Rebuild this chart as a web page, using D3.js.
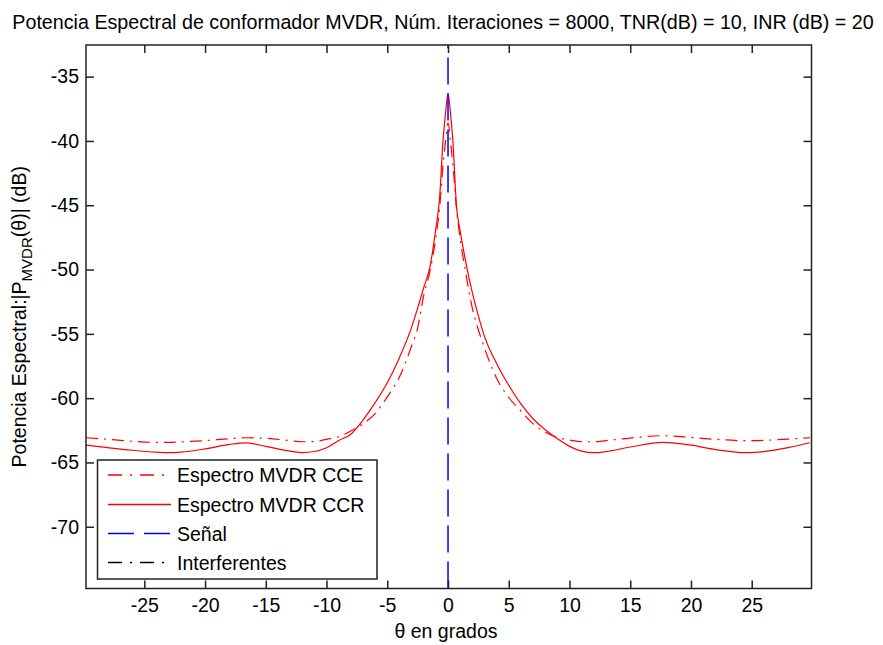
<!DOCTYPE html>
<html>
<head>
<meta charset="utf-8">
<script src="https://cdn.jsdelivr.net/npm/d3@7/dist/d3.min.js"></script>
<style>
  body { margin: 0; background: #fff; }
  svg { display: block; font-family: "Liberation Sans", Arial, sans-serif; }
</style>
</head>
<body>
<svg id="chart" width="883" height="645"></svg>
<script>
// Angle grid (degrees) shared by both spectra
const theta = [-29.8, -28, -26, -24, -23, -22, -20, -18, -16.7, -15,
  -13, -12, -11, -10, -9, -8, -7, -6, -5, -4,
  -3, -2.5, -2, -1.5, -1, -0.7, -0.4, -0.2, 0, 0.2,
  0.4, 0.7, 1, 1.5, 2, 2.5, 3, 4, 5, 6,
  7, 8, 9, 10, 11, 12, 13, 15, 17.7, 20,
  22, 24.6, 26, 28, 29.8];

// MVDR spectrum, CCR estimate (dB)
const specCCR = [-63.65, -63.85, -64.05, -64.2, -64.24, -64.2, -63.95, -63.6, -63.47, -63.75,
  -64.12, -64.24, -64.15, -63.85, -63.3, -62.8, -61.7, -60.35, -58.8, -56.85,
  -54.5, -53.0, -51.4, -49.85, -46.8, -44.5, -39.8, -37.8, -36.3, -37.8,
  -40.0, -45.1, -47.0, -49.6, -51.8, -53.6, -55.2, -57.3, -59.0, -60.45,
  -61.6, -62.45, -63.15, -63.75, -64.12, -64.24, -64.15, -63.8, -63.44, -63.65,
  -64.0, -64.24, -64.15, -63.85, -63.47];

// MVDR spectrum, CCE estimate (dB)
const specCCE = [-63.08, -63.2, -63.35, -63.44, -63.44, -63.4, -63.3, -63.15, -63.08, -63.12,
  -63.3, -63.39, -63.38, -63.2, -63.0, -62.55, -62.0, -61.2, -59.9, -58.35,
  -55.95, -54.55, -52.0, -50.2, -47.5, -45.3, -41.8, -40.0, -38.6, -40.0,
  -41.8, -45.3, -47.6, -50.5, -53.0, -54.7, -56.1, -58.45, -59.95, -61.0,
  -62.0, -62.65, -63.05, -63.25, -63.38, -63.39, -63.3, -63.1, -62.92, -63.05,
  -63.2, -63.31, -63.28, -63.18, -63.08];

// Direction of the desired signal (degrees)
const signalAngle = [0];

const xTicks = [-25, -20, -15, -10, -5, 0, 5, 10, 15, 20, 25];
const yTicks = [-70, -65, -60, -55, -50, -45, -40, -35];
const xDomain = [-29.8, 29.92];
const yDomain = [-74.8, -32.54];

const legendItems = [
  { label: "Espectro MVDR CCE", color: "#ff0000", dash: "14,8,2,8" },
  { label: "Espectro MVDR CCR", color: "#ff0000", dash: null },
  { label: "Señal", color: "#0000ff", dash: "26,10" },
  { label: "Interferentes", color: "#000000", dash: "14,8,2,8" }
];

const svg = d3.select("#chart");
const L = 86, R = 811.5, T = 45, B = 588.5;
const x = d3.scaleLinear().domain(xDomain).range([L, R]);
const y = d3.scaleLinear().domain(yDomain).range([B, T]);
const fs = 19.5;

svg.append("defs").append("clipPath").attr("id", "plotclip")
  .append("rect").attr("x", L).attr("y", T).attr("width", R - L).attr("height", B - T);

const plot = svg.append("g").attr("clip-path", "url(#plotclip)");

const line = d3.line().x(d => x(d[0])).y(d => y(d[1])).curve(d3.curveMonotoneX);

plot.append("path")
  .datum(theta.map((t, i) => [t, specCCE[i]]))
  .attr("d", line).attr("fill", "none").attr("stroke", "#ff0000")
  .attr("stroke-width", 1.2).attr("stroke-dasharray", "12,6,2,6");

plot.append("path")
  .datum(theta.map((t, i) => [t, specCCR[i]]))
  .attr("d", line).attr("fill", "none").attr("stroke", "#ff0000")
  .attr("stroke-width", 1.2);

plot.selectAll("line.signal").data(signalAngle).enter().append("line")
  .attr("class", "signal")
  .attr("x1", d => x(d)).attr("x2", d => x(d))
  .attr("y1", y(yDomain[0])).attr("y2", y(yDomain[1]))
  .attr("stroke", "#0000ff").attr("stroke-width", 1.5)
  .attr("stroke-dasharray", "27,9");

// Axes: ticks inward on all four sides
const tickLen = 8;
const axisColor = "#222";
const fmt = d => d3.format("d")(d).replace("−", "-");
const bottomAxis = d3.axisBottom(x).tickValues(xTicks).tickSizeInner(-tickLen).tickSizeOuter(0)
  .tickPadding(10).tickFormat(fmt);
const topAxis = d3.axisTop(x).tickValues(xTicks).tickSizeInner(-tickLen).tickSizeOuter(0).tickFormat("");
const leftAxis = d3.axisLeft(y).tickValues(yTicks).tickSizeInner(-tickLen).tickSizeOuter(0)
  .tickPadding(7).tickFormat(fmt);
const rightAxis = d3.axisRight(y).tickValues(yTicks).tickSizeInner(-tickLen).tickSizeOuter(0).tickFormat("");

function styleAxis(g) {
  g.select(".domain").remove();
  g.selectAll(".tick line").attr("stroke", axisColor).attr("stroke-width", 1.5);
  g.selectAll(".tick text").attr("fill", "#000").style("font-size", fs + "px")
    .style("font-family", '"Liberation Sans", Arial, sans-serif');
}
svg.append("g").attr("transform", `translate(0,${B})`).call(bottomAxis).call(styleAxis);
svg.append("g").attr("transform", `translate(0,${T})`).call(topAxis).call(styleAxis);
svg.append("g").attr("transform", `translate(${L},0)`).call(leftAxis).call(styleAxis);
svg.append("g").attr("transform", `translate(${R},0)`).call(rightAxis).call(styleAxis);

svg.append("rect").attr("x", L).attr("y", T).attr("width", R - L).attr("height", B - T)
  .attr("fill", "none").attr("stroke", axisColor).attr("stroke-width", 1.5);

// Title
svg.append("text").attr("x", 443).attr("y", 29).attr("text-anchor", "middle")
  .style("font-size", "19.7px").attr("fill", "#000")
  .text("Potencia Espectral de conformador MVDR, Núm. Iteraciones = 8000, TNR(dB) = 10, INR (dB) = 20");

// X label
svg.append("text").attr("x", 446).attr("y", 638).attr("text-anchor", "middle")
  .style("font-size", fs + "px").attr("fill", "#000").text("θ en grados");

// Y label with subscript
const yl = svg.append("text").attr("transform", `translate(26,${(T + B) / 2}) rotate(-90)`)
  .attr("text-anchor", "middle").style("font-size", fs + "px").attr("fill", "#000");
yl.append("tspan").text("Potencia Espectral:|P");
yl.append("tspan").attr("dy", 6).style("font-size", "15px").text("MVDR");
yl.append("tspan").attr("dy", -6).text("(θ)| (dB)");

// Legend
const lg = svg.append("g");
lg.append("rect").attr("x", 97.5).attr("y", 460).attr("width", 279.5).attr("height", 119)
  .attr("fill", "#fff").attr("stroke", axisColor).attr("stroke-width", 1.5);
const rowY = [475, 504.5, 533.5, 562.5];
legendItems.forEach((it, i) => {
  lg.append("line").attr("x1", 108).attr("x2", 171).attr("y1", rowY[i]).attr("y2", rowY[i])
    .attr("stroke", it.color).attr("stroke-width", 1.3)
    .attr("stroke-dasharray", it.dash);
  lg.append("text").attr("x", 177).attr("y", rowY[i] + 7)
    .style("font-size", fs + "px").attr("fill", "#000").text(it.label);
});
</script>
</body>
</html>
